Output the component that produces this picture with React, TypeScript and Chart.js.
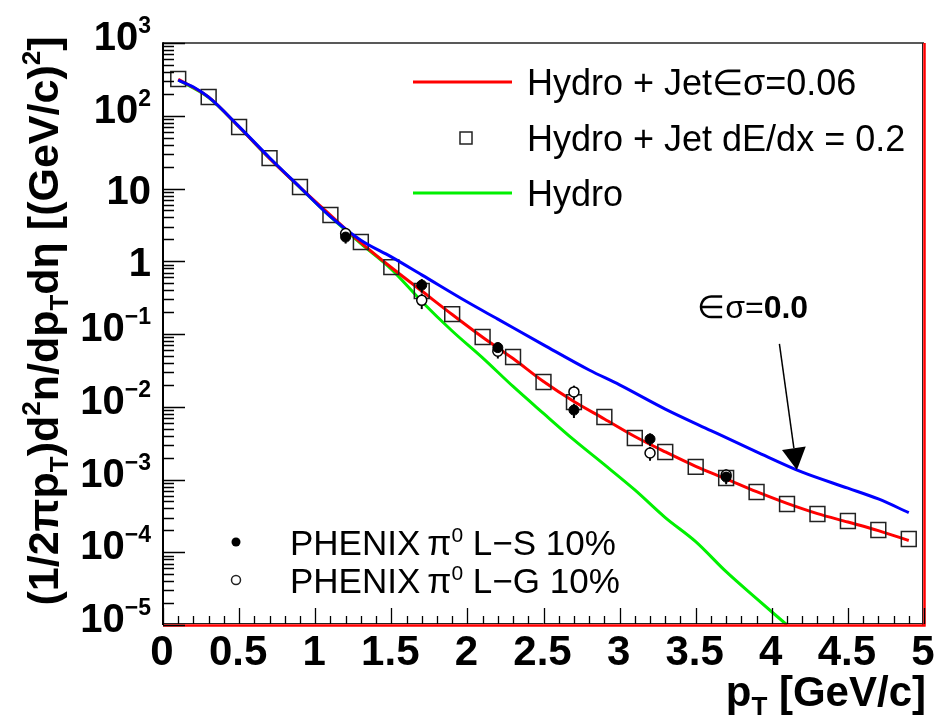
import { useEffect, useRef } from 'react';
import { Chart, registerables } from 'chart.js';

Chart.register(...registerables);

const FONT = '"Liberation Sans", Arial, Helvetica, sans-serif';

// Hydro + Jet (dE/dx = 0.2) squares and Hydro + Jet eps-sigma=0.06 (red line)
const jetX = [0.1, 0.3, 0.5, 0.7, 0.9, 1.1, 1.3, 1.5, 1.7, 1.9, 2.1, 2.3, 2.5, 2.7, 2.9, 3.1, 3.3, 3.5, 3.7, 3.9, 4.1, 4.3, 4.5, 4.7, 4.9];
const jetDEdxY = [320, 181, 70, 26.2, 10.5, 4.32, 1.84, 0.83, 0.39, 0.188, 0.091, 0.0483, 0.0219, 0.0116, 0.00722, 0.00372, 0.00239, 0.00149, 0.00105, 0.000673, 0.00046, 0.000336, 0.000269, 0.000202, 0.000152];
const jetEsY = [318, 180, 70, 26, 10.4, 4.3, 1.8, 0.82, 0.39, 0.185, 0.09, 0.046, 0.0222, 0.0118, 0.0068, 0.0039, 0.0024, 0.00152, 0.00102, 0.00068, 0.00047, 0.00034, 0.00026, 0.000198, 0.000145];

// Hydro only (green)
const hydroX = [0.1, 0.3, 0.5, 0.7, 0.9, 1.1, 1.3, 1.5, 1.7, 1.9, 2.1, 2.3, 2.5, 2.7, 2.9, 3.1, 3.3, 3.5, 3.7, 3.9, 4.1];
const hydroY = [310, 178, 70, 26, 10.3, 4.1, 1.75, 0.78, 0.28, 0.11, 0.047, 0.019, 0.0081, 0.0035, 0.0016, 0.00072, 0.0003, 0.00014, 0.000054, 0.000023, 0.00001];

// Hydro + Jet eps-sigma = 0.0 (blue)
const noEsX = [0.1, 0.2, 0.3, 0.5, 0.7, 0.9, 1.1, 1.3, 1.5, 1.7, 2.0, 2.2, 2.5, 2.8, 3.0, 3.3, 3.6, 3.9, 4.2, 4.5, 4.7, 4.9];
const noEsY = [309, 248, 180, 71, 26.5, 10.4, 4.1, 1.95, 1.15, 0.65, 0.275, 0.16, 0.071, 0.032, 0.02, 0.0093, 0.0047, 0.0024, 0.00126, 0.00076, 0.00054, 0.00035];

// PHENIX pi0 data
const phenixX = [1.2, 1.7, 2.2, 2.7, 3.2, 3.7];
const phenixLSY = [2.15, 0.47, 0.065, 0.009, 0.0036, 0.00108];
const phenixLSErr = [0.4, 0.1, 0.012, 0.002, 0.0007, 0.00022];
const phenixLGY = [2.4, 0.29, 0.058, 0.016, 0.00231, 0.00115];
const phenixLGErr = [0.45, 0.07, 0.012, 0.0035, 0.0005, 0.00022];

// axes
const xTickValues = [0, 0.5, 1, 1.5, 2, 2.5, 3, 3.5, 4, 4.5, 5];
const xTickLabels = ['0', '0.5', '1', '1.5', '2', '2.5', '3', '3.5', '4', '4.5', '5'];
const yDecades = [3, 2, 1, 0, -1, -2, -3, -4, -5];

// legends and annotation
const legendTopLabels = ['Hydro + Jet\u2208\u03c3=0.06', 'Hydro + Jet dE/dx = 0.2', 'Hydro'];
const legendBottomLabels = ['L\u2212S 10%', 'L\u2212G 10%'];
const arrowFrom = [4.05, 0.073];
const arrowTo = [4.165, 0.00135];
const arrowLabelAt = [3.51, 0.166];

type Part = { t: string; size: number; dy?: number; weight?: string };

function setFont(ctx: CanvasRenderingContext2D, p: Part) {
  ctx.font = `${p.weight || 'normal'} ${p.size}px ${FONT}`;
}
function richWidth(ctx: CanvasRenderingContext2D, parts: Part[]) {
  let w = 0;
  for (const p of parts) {
    setFont(ctx, p);
    w += ctx.measureText(p.t).width;
  }
  return w;
}
function drawRich(ctx: CanvasRenderingContext2D, parts: Part[], x: number, y: number) {
  let cx = x;
  for (const p of parts) {
    setFont(ctx, p);
    ctx.fillText(p.t, cx, y + (p.dy || 0));
    cx += ctx.measureText(p.t).width;
  }
}

const pts = (xs: number[], ys: number[]) => xs.map((x, i) => ({ x, y: ys[i] }));

const sciPlugin = {
  id: 'sci',
  beforeDatasetDraw(chart: any, args: any) {
    if (chart.data.datasets[args.index].label !== 'PHENIX L-G') return;
    const ctx: CanvasRenderingContext2D = chart.ctx;
    const xs = chart.scales.x;
    const ys = chart.scales.y;
    ctx.save();
    ctx.strokeStyle = '#000';
    ctx.lineWidth = 2;
    const bars = (vals: number[], errs: number[]) => {
      phenixX.forEach((x, i) => {
        const px = xs.getPixelForValue(x);
        const y1 = ys.getPixelForValue(vals[i] + errs[i]);
        const y2 = ys.getPixelForValue(Math.max(vals[i] - errs[i], 1e-6));
        ctx.beginPath();
        ctx.moveTo(px, y1);
        ctx.lineTo(px, y2);
        ctx.stroke();
      });
    };
    bars(phenixLSY, phenixLSErr);
    bars(phenixLGY, phenixLGErr);
    ctx.restore();
  },
  afterDraw(chart: any) {
    const ctx: CanvasRenderingContext2D = chart.ctx;
    const { left: L, top: T, right: R, bottom: B } = chart.chartArea;
    const xs = chart.scales.x;
    const ys = chart.scales.y;
    ctx.save();
    ctx.textBaseline = 'alphabetic';
    ctx.textAlign = 'left';
    ctx.fillStyle = '#000';

    // frame
    ctx.strokeStyle = '#222';
    ctx.lineWidth = 1.5;
    ctx.beginPath();
    ctx.moveTo(L, T);
    ctx.lineTo(R, T);
    ctx.stroke();
    ctx.lineWidth = 1;
    ctx.beginPath();
    ctx.moveTo(R - 1.5, T);
    ctx.lineTo(R - 1.5, B);
    ctx.moveTo(L, B - 1.5);
    ctx.lineTo(R, B - 1.5);
    ctx.stroke();
    ctx.strokeStyle = '#ff0000';
    ctx.lineWidth = 2.5;
    ctx.beginPath();
    ctx.moveTo(R + 0.5, T);
    ctx.lineTo(R + 0.5, B + 1.5);
    ctx.moveTo(L, B + 0.5);
    ctx.lineTo(R + 1.5, B + 0.5);
    ctx.stroke();
    ctx.strokeStyle = '#000';
    ctx.lineWidth = 2;
    ctx.beginPath();
    ctx.moveTo(L, T - 0.75);
    ctx.lineTo(L, B);
    ctx.stroke();

    // x ticks
    ctx.lineWidth = 1.3;
    ctx.strokeStyle = '#000';
    ctx.beginPath();
    for (let k = 0; k <= 50; k++) {
      const v = k / 10;
      const px = Math.round(xs.getPixelForValue(v)) + 0.5;
      const len = k % 5 === 0 ? 16 : 8;
      ctx.moveTo(px, B - 1);
      ctx.lineTo(px, B - 1 - len);
    }
    ctx.stroke();

    // y ticks
    ctx.beginPath();
    for (let d = -5; d <= 3; d++) {
      const py = Math.round(ys.getPixelForValue(Math.pow(10, d))) + 0.5;
      ctx.moveTo(L, py);
      ctx.lineTo(L + 22, py);
      if (d < 3) {
        for (let m = 2; m <= 9; m++) {
          const pm = Math.round(ys.getPixelForValue(m * Math.pow(10, d))) + 0.5;
          ctx.moveTo(L, pm);
          ctx.lineTo(L + 11, pm);
        }
      }
    }
    ctx.stroke();

    // x tick labels
    const xFont = 42;
    xTickValues.forEach((v, i) => {
      const parts: Part[] = [{ t: xTickLabels[i], size: xFont, weight: 'bold' }];
      const w = richWidth(ctx, parts);
      drawRich(ctx, parts, xs.getPixelForValue(v) - w / 2 - 1, 665);
    });

    // y tick labels
    const yFont = 40;
    yDecades.forEach((d) => {
      const py = ys.getPixelForValue(Math.pow(10, d));
      let parts: Part[];
      let base: number;
      if (d === 0) {
        parts = [{ t: '1', size: yFont, weight: 'bold' }];
        base = py + 15;
      } else if (d === 1) {
        parts = [{ t: '10', size: yFont, weight: 'bold' }];
        base = py + 15;
      } else {
        const ex = d < 0 ? '\u2212' + String(-d) : String(d);
        parts = [
          { t: '10', size: yFont, weight: 'bold' },
          { t: ex, size: 23, dy: -17, weight: 'bold' },
        ];
        base = py + 7;
      }
      const w = richWidth(ctx, parts);
      drawRich(ctx, parts, 151 - w, base);
    });

    // x axis title
    const xt: Part[] = [
      { t: 'p', size: 42, weight: 'bold' },
      { t: 'T', size: 26, dy: 9, weight: 'bold' },
      { t: ' [GeV/c]', size: 42, weight: 'bold' },
    ];
    const xtw = richWidth(ctx, xt);
    drawRich(ctx, xt, R + 2 - xtw, 706);

    // y axis title
    const F = 43;
    const S = 26;
    const yt: Part[] = [
      { t: '(1/2\u03c0p', size: F, weight: 'bold' },
      { t: 'T', size: S, dy: 10, weight: 'bold' },
      { t: ')d', size: F, weight: 'bold' },
      { t: '2', size: S, dy: -18, weight: 'bold' },
      { t: 'n/dp', size: F, weight: 'bold' },
      { t: 'T', size: S, dy: 10, weight: 'bold' },
      { t: 'd\u03b7 [(GeV/c)', size: F, weight: 'bold' },
      { t: '2', size: S, dy: -18, weight: 'bold' },
      { t: ']', size: F, weight: 'bold' },
    ];
    const ytw = richWidth(ctx, yt);
    ctx.save();
    ctx.translate(58, 321);
    ctx.rotate(-Math.PI / 2);
    drawRich(ctx, yt, -ytw / 2, 0);
    ctx.restore();

    // top-right legend
    const lf = 36;
    const rows = [82, 138, 193];
    ctx.lineWidth = 3;
    ctx.strokeStyle = '#ff0000';
    ctx.beginPath();
    ctx.moveTo(413, rows[0]);
    ctx.lineTo(512, rows[0]);
    ctx.stroke();
    ctx.strokeStyle = '#00f000';
    ctx.beginPath();
    ctx.moveTo(413, rows[2]);
    ctx.lineTo(512, rows[2]);
    ctx.stroke();
    ctx.strokeStyle = '#222';
    ctx.lineWidth = 1.5;
    ctx.strokeRect(466 - 6, rows[1] - 6, 12, 12);
    ctx.font = `normal ${lf}px ${FONT}`;
    legendTopLabels.forEach((t, i) => {
      ctx.fillText(t, 527, rows[i] + 13);
    });

    // bottom-left legend
    const bf = 35;
    const brows = [542, 580];
    ctx.beginPath();
    ctx.arc(236, brows[0], 4.5, 0, Math.PI * 2);
    ctx.fill();
    ctx.lineWidth = 1.5;
    ctx.beginPath();
    ctx.arc(236, brows[1], 4.5, 0, Math.PI * 2);
    ctx.stroke();
    legendBottomLabels.forEach((t, i) => {
      const parts: Part[] = [
        { t: 'PHENIX', size: bf },
        { t: '\u2009\u03c0', size: bf },
        { t: '0', size: 21, dy: -13 },
        { t: ' ' + t, size: bf },
      ];
      drawRich(ctx, parts, 290, brows[i] + 13);
    });

    // annotation arrow
    const ax1 = xs.getPixelForValue(arrowFrom[0]);
    const ay1 = ys.getPixelForValue(arrowFrom[1]);
    const ax2 = xs.getPixelForValue(arrowTo[0]);
    const ay2 = ys.getPixelForValue(arrowTo[1]);
    const ang = Math.atan2(ay2 - ay1, ax2 - ax1);
    const hl = 22;
    const hw = 12;
    const bx = ax2 - hl * Math.cos(ang);
    const by = ay2 - hl * Math.sin(ang);
    ctx.strokeStyle = '#000';
    ctx.lineWidth = 1.5;
    ctx.beginPath();
    ctx.moveTo(ax1, ay1);
    ctx.lineTo(bx, by);
    ctx.stroke();
    ctx.beginPath();
    ctx.moveTo(ax2, ay2);
    ctx.lineTo(bx + hw * Math.sin(ang), by - hw * Math.cos(ang));
    ctx.lineTo(bx - hw * Math.sin(ang), by + hw * Math.cos(ang));
    ctx.closePath();
    ctx.fill();
    const an: Part[] = [
      { t: '\u2208\u03c3=', size: 32 },
      { t: '0.0', size: 32, weight: 'bold' },
    ];
    drawRich(ctx, an, xs.getPixelForValue(arrowLabelAt[0]), ys.getPixelForValue(arrowLabelAt[1]));

    ctx.restore();
  },
};

export default function App() {
  const ref = useRef<HTMLCanvasElement | null>(null);
  useEffect(() => {
    document.body.style.margin = '0';
    const canvas = ref.current;
    if (!canvas) return;
    const chart = new Chart(canvas, {
      type: 'scatter',
      data: {
        datasets: [
          {
            label: 'PHENIX L-S',
            data: pts(phenixX, phenixLSY),
            showLine: false,
            pointStyle: 'circle',
            pointRadius: 5,
            pointBackgroundColor: '#000',
            pointBorderColor: '#000',
            pointBorderWidth: 1,
            order: 0,
          },
          {
            label: 'PHENIX L-G',
            data: pts(phenixX, phenixLGY),
            showLine: false,
            pointStyle: 'circle',
            pointRadius: 5,
            pointBackgroundColor: '#fff',
            pointBorderColor: '#000',
            pointBorderWidth: 1.5,
            order: 1,
          },
          {
            label: 'Hydro + Jet eps-sigma=0.0',
            data: pts(noEsX, noEsY),
            showLine: true,
            borderColor: '#0000ff',
            borderWidth: 3,
            pointRadius: 0,
            cubicInterpolationMode: 'monotone',
            order: 2,
          },
          {
            label: 'Hydro + Jet dE/dx = 0.2',
            data: pts(jetX, jetDEdxY),
            showLine: false,
            pointStyle: 'rect',
            pointRadius: 10.5,
            pointBackgroundColor: 'rgba(0,0,0,0)',
            pointBorderColor: '#222',
            pointBorderWidth: 1.5,
            order: 3,
          },
          {
            label: 'Hydro + Jet eps-sigma=0.06',
            data: pts(jetX, jetEsY),
            showLine: true,
            borderColor: '#ff0000',
            borderWidth: 3,
            pointRadius: 0,
            cubicInterpolationMode: 'monotone',
            order: 4,
          },
          {
            label: 'Hydro',
            data: pts(hydroX, hydroY),
            showLine: true,
            borderColor: '#00f000',
            borderWidth: 3,
            pointRadius: 0,
            cubicInterpolationMode: 'monotone',
            order: 5,
          },
        ],
      },
      options: {
        responsive: false,
        animation: false,
        events: [],
        layout: { padding: { left: 163, top: 43, right: 12, bottom: 94 } },
        scales: {
          x: { type: 'linear', min: 0, max: 5, display: false },
          y: { type: 'logarithmic', min: 1e-5, max: 1e3, display: false },
        },
        plugins: {
          legend: { display: false },
          tooltip: { enabled: false },
        },
      },
      plugins: [sciPlugin],
    } as any);
    return () => chart.destroy();
  }, []);
  return (
    <div style={{ width: 936, height: 719, background: '#fff' }}>
      <canvas ref={ref} width={936} height={719} style={{ display: 'block' }} />
    </div>
  );
}
